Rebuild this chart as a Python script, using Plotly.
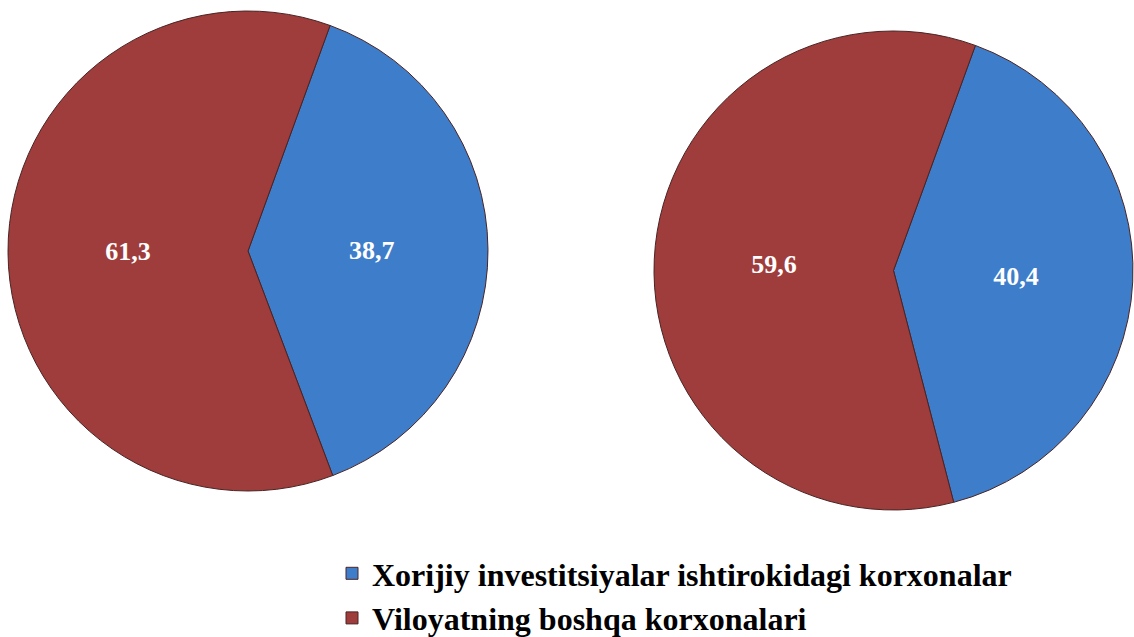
import plotly.graph_objects as go

categories = ["Xorijiy investitsiyalar ishtirokidagi korxonalar", "Viloyatning boshqa korxonalari"]
values_left = [38.7, 61.3]
values_right = [40.4, 59.6]
colors = ["#3E7DCA", "#9E3D3B"]

W, H = 1134, 637

def dom(x0, x1, y0, y1):
    return dict(x=[x0 / W, x1 / W], y=[1 - y1 / H, 1 - y0 / H])

common = dict(
    labels=categories,
    sort=False,
    direction="clockwise",
    rotation=20,
    marker=dict(colors=colors, line=dict(color="#4a2424", width=1)),
    textinfo="value",
    texttemplate="%{value:.1f}",
    textposition="inside",
    insidetextorientation="horizontal",
    textfont=dict(family="Liberation Serif", size=26, color="white", weight="bold"),
    hoverinfo="label+value",
)

fig = go.Figure()
fig.add_trace(go.Pie(values=values_left, domain=dom(8, 488, 11, 491), **common))
fig.add_trace(go.Pie(values=values_right, domain=dom(654, 1133, 31, 510), **common))

fig.update_layout(
    width=W, height=H,
    margin=dict(l=0, r=0, t=0, b=0, autoexpand=False),
    paper_bgcolor="white",
    separators=", ",
    showlegend=True,
    legend=dict(
        xref="container", yref="container",
        x=332 / W, y=1 - 546 / H, xanchor="left", yanchor="top",
        font=dict(family="Liberation Serif", size=32, color="black", weight="bold"),
        bgcolor="rgba(0,0,0,0)",
        itemwidth=30,
        tracegroupgap=0,
    ),
)

fig.write_html("out.html", config={"displayModeBar": False},
               post_script="document.body.style.margin='0';")
